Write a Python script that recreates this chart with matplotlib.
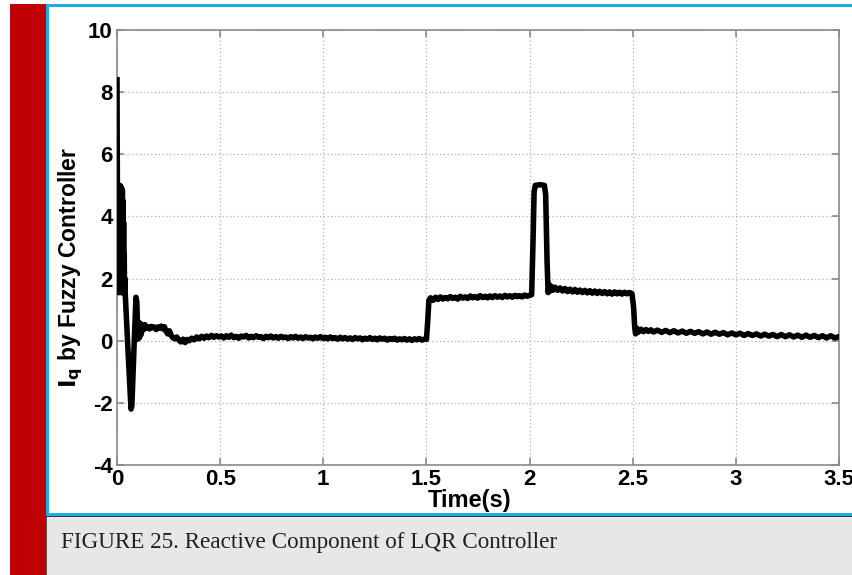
import matplotlib
matplotlib.use("Agg")
import matplotlib.pyplot as plt
from matplotlib.patches import Rectangle

plt.rcParams["axes.unicode_minus"] = False

W, H = 853, 575

# reactive current Iq (fuzzy controller) as (time s, value) pairs, segment by segment
startup = [(0.000, 8.40), (0.002, 5.00), (0.0035, 1.60), (0.005, 5.00), (0.0065, 1.55),
           (0.008, 5.00), (0.0095, 1.60), (0.011, 4.98), (0.0125, 1.55), (0.014, 5.00),
           (0.0155, 1.60), (0.017, 4.95), (0.0185, 1.55), (0.020, 4.95), (0.0215, 1.60),
           (0.023, 4.90), (0.0245, 1.55), (0.026, 4.85), (0.0275, 1.60), (0.029, 4.50),
           (0.0305, 1.55), (0.032, 3.80), (0.0335, 1.55), (0.035, 2.80), (0.0365, 1.50),
           (0.038, 2.00), (0.040, 1.50), (0.054, -0.40), (0.068, -2.20), (0.072, -2.10),
           (0.082, -0.30), (0.092, 1.40), (0.096, 1.25), (0.101, 0.05), (0.105, 0.60),
           (0.109, 0.10), (0.113, 0.55), (0.117, 0.20), (0.122, 0.50), (0.128, 0.35),
           (0.135, 0.52), (0.142, 0.40), (0.150, 0.45), (0.158, 0.38), (0.166, 0.46),
           (0.174, 0.42), (0.182, 0.44), (0.190, 0.36), (0.198, 0.44), (0.206, 0.40),
           (0.214, 0.47), (0.222, 0.38), (0.230, 0.45), (0.238, 0.30), (0.246, 0.22),
           (0.254, 0.32), (0.262, 0.18), (0.270, 0.10), (0.280, 0.06), (0.290, 0.12),
           (0.300, 0.02), (0.310, -0.04), (0.320, 0.05), (0.330, -0.06), (0.340, 0.04),
           (0.350, 0.00), (0.362, 0.08), (0.374, 0.03), (0.386, 0.12), (0.398, 0.06),
           (0.410, 0.14), (0.422, 0.08), (0.434, 0.15), (0.446, 0.10), (0.458, 0.17),
           (0.470, 0.11), (0.482, 0.16), (0.494, 0.12)]

steady = [(0.506, 0.15), (0.518, 0.09), (0.530, 0.16), (0.542, 0.11), (0.554, 0.18),
          (0.566, 0.10), (0.578, 0.14), (0.590, 0.08), (0.602, 0.15), (0.614, 0.12),
          (0.626, 0.17), (0.638, 0.09), (0.650, 0.14), (0.662, 0.10), (0.674, 0.16),
          (0.686, 0.11), (0.698, 0.13), (0.710, 0.07), (0.722, 0.14), (0.734, 0.10),
          (0.746, 0.15), (0.758, 0.09), (0.770, 0.13), (0.782, 0.08), (0.794, 0.14),
          (0.806, 0.10), (0.818, 0.12), (0.830, 0.07), (0.842, 0.13), (0.854, 0.09),
          (0.866, 0.14), (0.878, 0.08), (0.890, 0.12), (0.902, 0.07), (0.914, 0.13),
          (0.926, 0.09), (0.938, 0.11), (0.950, 0.06), (0.962, 0.12), (0.974, 0.08),
          (0.986, 0.13), (0.998, 0.07), (1.010, 0.11), (1.022, 0.06), (1.034, 0.12),
          (1.046, 0.07), (1.058, 0.10), (1.070, 0.05), (1.082, 0.11), (1.094, 0.06),
          (1.106, 0.10), (1.118, 0.05), (1.130, 0.09), (1.142, 0.04), (1.154, 0.10),
          (1.166, 0.06), (1.178, 0.09), (1.190, 0.03), (1.202, 0.08), (1.214, 0.05),
          (1.226, 0.10), (1.238, 0.04), (1.250, 0.08), (1.262, 0.03), (1.274, 0.09),
          (1.286, 0.05), (1.298, 0.08), (1.310, 0.02), (1.322, 0.07), (1.334, 0.04),
          (1.346, 0.08), (1.358, 0.02), (1.370, 0.06), (1.382, 0.03), (1.394, 0.07),
          (1.406, 0.02), (1.418, 0.06), (1.430, 0.01), (1.442, 0.06), (1.454, 0.03),
          (1.466, 0.07), (1.478, 0.02), (1.490, 0.05), (1.500, 0.04)]

step_up = [(1.506, 0.60), (1.512, 1.30), (1.520, 1.38), (1.532, 1.30), (1.544, 1.40),
           (1.556, 1.33), (1.568, 1.41), (1.580, 1.34), (1.592, 1.39), (1.604, 1.35),
           (1.616, 1.42), (1.628, 1.36), (1.640, 1.40), (1.652, 1.34), (1.664, 1.43),
           (1.676, 1.37), (1.688, 1.41), (1.700, 1.36), (1.712, 1.44), (1.724, 1.38),
           (1.736, 1.42), (1.748, 1.37), (1.760, 1.45), (1.772, 1.39), (1.784, 1.43),
           (1.796, 1.38), (1.808, 1.44), (1.820, 1.39), (1.832, 1.45), (1.844, 1.40),
           (1.856, 1.44), (1.868, 1.39), (1.880, 1.46), (1.892, 1.41), (1.904, 1.45),
           (1.916, 1.40), (1.928, 1.46), (1.940, 1.42), (1.952, 1.45), (1.964, 1.41),
           (1.976, 1.47), (1.988, 1.43), (2.000, 1.46), (2.010, 1.48)]

spike = [(2.016, 3.00), (2.022, 4.80), (2.028, 5.00), (2.050, 5.02), (2.072, 5.00),
         (2.078, 4.70), (2.085, 2.50), (2.090, 1.55), (2.095, 1.80), (2.100, 1.60),
         (2.106, 1.75), (2.112, 1.62)]

hold = [(2.124, 1.72), (2.136, 1.62), (2.148, 1.70), (2.160, 1.60), (2.172, 1.68),
        (2.184, 1.58), (2.196, 1.66), (2.208, 1.57), (2.220, 1.65), (2.232, 1.56),
        (2.244, 1.63), (2.256, 1.55), (2.268, 1.62), (2.280, 1.54), (2.292, 1.61),
        (2.304, 1.53), (2.316, 1.60), (2.328, 1.52), (2.340, 1.59), (2.352, 1.52),
        (2.364, 1.58), (2.376, 1.51), (2.388, 1.57), (2.400, 1.50), (2.412, 1.57),
        (2.424, 1.51), (2.436, 1.56), (2.448, 1.50), (2.460, 1.56), (2.472, 1.51),
        (2.484, 1.55), (2.496, 1.52)]

tail = [(2.504, 1.10), (2.510, 0.40), (2.514, 0.22), (2.520, 0.40), (2.528, 0.28),
        (2.540, 0.37), (2.552, 0.29), (2.564, 0.36), (2.576, 0.30), (2.588, 0.35),
        (2.600, 0.28), (2.620, 0.34), (2.640, 0.27), (2.660, 0.33), (2.680, 0.26),
        (2.700, 0.32), (2.720, 0.25), (2.740, 0.31), (2.760, 0.24), (2.780, 0.30),
        (2.800, 0.24), (2.820, 0.29), (2.840, 0.22), (2.860, 0.28), (2.880, 0.21),
        (2.900, 0.27), (2.920, 0.21), (2.940, 0.26), (2.960, 0.19), (2.980, 0.25),
        (3.000, 0.19), (3.020, 0.24), (3.040, 0.17), (3.060, 0.23), (3.080, 0.17),
        (3.100, 0.22), (3.120, 0.15), (3.140, 0.21), (3.160, 0.15), (3.180, 0.20),
        (3.200, 0.13), (3.220, 0.20), (3.240, 0.13), (3.260, 0.19), (3.280, 0.12),
        (3.300, 0.18), (3.320, 0.11), (3.340, 0.18), (3.360, 0.11), (3.380, 0.17),
        (3.400, 0.10), (3.420, 0.16), (3.440, 0.09), (3.460, 0.16), (3.480, 0.09),
        (3.500, 0.13)]

x_ticks = [0, 0.5, 1, 1.5, 2, 2.5, 3, 3.5]
x_labels = ["0", "0.5", "1", "1.5", "2", "2.5", "3", "3.5"]
y_ticks = [-4, -2, 0, 2, 4, 6, 8, 10]
caption = "FIGURE 25. Reactive Component of LQR Controller"

t, iq = zip(*(startup + steady + step_up + spike + hold + tail))

fig = plt.figure(figsize=(W / 100, H / 100), dpi=100)


def box(x0, y0, x1, y1, color):
    # rectangle given in pixels from the top-left corner, kept under the axes
    fig.patches.append(Rectangle((x0 / W, 1 - y1 / H), (x1 - x0) / W, (y1 - y0) / H,
                                 transform=fig.transFigure, color=color, lw=0, zorder=-1))


box(10, 4, 46, 575, "#c00000")
box(46, 517, 853, 575, "#e6e7e9")
box(46, 515.5, 853, 517, "#3a3a3a")
box(46, 517, 47.5, 575, "#555555")
box(46, 4, 853, 7, "#19aee6")
box(46, 4, 49, 516, "#19aee6")
box(46, 513, 853, 516, "#19aee6")

fig.text(61 / W, 1 - 548 / H, caption, family="Liberation Serif", size=16.7,
         color="#231f20", va="baseline")

ax = fig.add_axes([117 / W, 1 - 465 / H, (839 - 117) / W, (465 - 30) / H])
ax.plot(t, iq, color="black", lw=4.0, solid_joinstyle="round", zorder=3)

ax.set_xlim(0, 3.5)
ax.set_ylim(-4, 10)
ax.set_xticks(x_ticks)
ax.set_xticklabels(x_labels)
ax.set_yticks(y_ticks)
ax.grid(True, color="#b0b0b0", ls=(0, (1, 2)), lw=0.9)
for s in ax.spines.values():
    s.set_color("#8a8a8a")
    s.set_linewidth(1.2)
ax.tick_params(direction="in", length=5, color="#8a8a8a", width=1.2,
               top=True, right=True, pad=3)
for lab in ax.get_xticklabels() + ax.get_yticklabels():
    lab.set_family("Liberation Sans")
    lab.set_fontweight("bold")
    lab.set_fontsize(16)

ax.set_xlabel("Time(s)", family="Liberation Sans", fontweight="bold", fontsize=17)
ax.xaxis.set_label_coords(0.489, -0.056)
ax.set_ylabel(r"$\mathbf{I_q}$ by Fuzzy Controller", family="Liberation Sans",
              fontweight="bold", fontsize=16.5)
ax.yaxis.set_label_coords(-0.045, 0.455)

fig.savefig("out.png", dpi=100)
